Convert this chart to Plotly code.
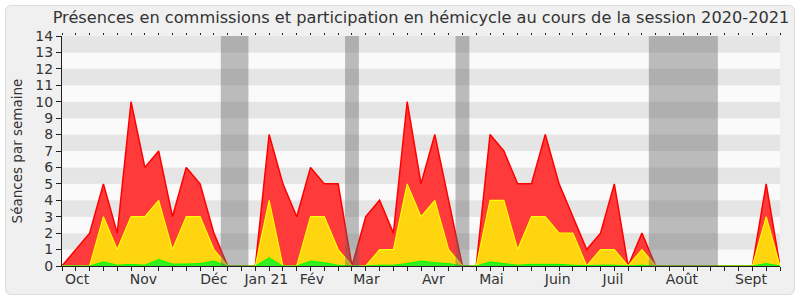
import plotly.graph_objects as go

# Weekly values, session 2020-2021 (week 0 = start of October)
red_values = [0, 1, 2, 5, 2, 10, 6, 7, 3, 6, 5, 2, 0, 0, 0, 8, 5, 3, 6, 5, 5, 0, 3, 4, 2, 10,
              5, 8, 4, 0, 0, 8, 7, 5, 5, 8, 5, 3, 1, 2, 5, 0, 2, 0, 0, 0, 0, 0, 0, 0, 0, 5, 0]
yellow_values = [0, 0, 0, 3, 1, 3, 3, 4, 1, 3, 3, 1, 0, 0, 0, 4, 0, 0, 3, 3, 1, 0, 0, 1, 1, 5,
                 3, 4, 1, 0, 0, 4, 4, 1, 3, 3, 2, 2, 0, 1, 1, 0, 1, 0, 0, 0, 0, 0, 0, 0, 0, 3, 0]
green_values = [0, 0, 0, 0.25, 0.05, 0.1, 0.05, 0.4, 0.12, 0.12, 0.15, 0.3, 0, 0, 0, 0.5, 0, 0,
                0.3, 0.2, 0.05, 0, 0, 0.05, 0.05, 0.15, 0.3, 0.2, 0.15, 0, 0, 0.25, 0.15, 0.05,
                0.1, 0.1, 0.1, 0.05, 0.02, 0.05, 0.05, 0, 0.05, 0, 0, 0, 0, 0, 0, 0, 0, 0.15, 0]

# Vacation weeks (first, last)
vacations = [(12, 13), (21, 21), (29, 29), (43, 47)]

month_labels = ["Oct", "Nov", "Déc", "Jan 21", "Fév", "Mar", "Avr", "Mai", "Juin", "Juil", "Août", "Sept"]
month_weeks = [1.1, 5.9, 11.0, 14.8, 18.1, 22.05, 26.9, 31.1, 35.9, 39.9, 44.9, 49.9]

y_ticks = list(range(0, 15))

weeks = list(range(len(red_values)))
n_last = weeks[-1]

FONT = "DejaVu Sans"
TXT = "#333333"

fig = go.Figure()
fig.add_trace(go.Scatter(x=weeks, y=red_values, mode="lines", fill="tozeroy",
                         line=dict(color="#ff0000", width=1.5), fillcolor="#ff3a3a",
                         hoverinfo="skip", showlegend=False))
fig.add_trace(go.Scatter(x=weeks, y=yellow_values, mode="lines", fill="tozeroy",
                         line=dict(color="#ffff00", width=1.2), fillcolor="#ffd50f",
                         hoverinfo="skip", showlegend=False))
fig.add_trace(go.Scatter(x=weeks, y=green_values, mode="lines", fill="tozeroy",
                         line=dict(color="#00ff00", width=1), fillcolor="#33ee22",
                         hoverinfo="skip", showlegend=False))
# dummy trace for the top tick axis
fig.add_trace(go.Scatter(x=[None], y=[None], xaxis="x2", yaxis="y", showlegend=False, hoverinfo="skip"))

ML, MR, MT, MB = 62, 20, 36, 34
W, H = 800, 300
pw, ph = W - ML - MR, H - MT - MB

def px2paper(px, py):
    return (px - ML) / pw, (H - MB - py) / ph

# rounded outer frame
x0, y0 = 5.5, 5.5
x1, y1 = 794.5, 294.5
r = 6
def P(px, py):
    a, b = px2paper(px, py)
    return f"{a:.5f},{b:.5f}"
path = (f"M {P(x0 + r, y0)} L {P(x1 - r, y0)} Q {P(x1, y0)} {P(x1, y0 + r)} "
        f"L {P(x1, y1 - r)} Q {P(x1, y1)} {P(x1 - r, y1)} L {P(x0 + r, y1)} "
        f"Q {P(x0, y1)} {P(x0, y1 - r)} L {P(x0, y0 + r)} Q {P(x0, y0)} {P(x0 + r, y0)} Z")
shapes = [dict(type="path", path=path, xref="paper", yref="paper", layer="below",
               fillcolor="#f0f0f0", line=dict(color="#dddddd", width=1))]

# alternating stripes
for k in y_ticks[:-1]:
    shapes.append(dict(type="rect", xref="x", yref="y", x0=0, x1=n_last, y0=k, y1=k + 1,
                       fillcolor="#e5e5e5" if k % 2 else "#fafafa", line=dict(width=0), layer="below"))

# vacation bands
for a, b in vacations:
    shapes.append(dict(type="rect", xref="x", yref="paper", x0=a - 0.5, x1=b + 0.5, y0=0, y1=1,
                       fillcolor="rgba(100,100,100,0.42)", line=dict(width=0), layer="above"))

fig.update_layout(
    width=W, height=H,
    margin=dict(l=ML, r=MR, t=MT, b=MB),
    paper_bgcolor="white",
    plot_bgcolor="#fafafa",
    font=dict(family=FONT, color=TXT, size=14),
    title=dict(text="Présences en commissions et participation en hémicycle au cours de la session 2020-2021",
               x=0.5, xanchor="center", xref="paper", y=1 - 17 / H, yanchor="middle",
               font=dict(family=FONT, size=16.2, color=TXT)),
    shapes=shapes,
    xaxis=dict(range=[0, n_last], tickmode="array", tickvals=month_weeks, ticktext=month_labels,
               ticks="", showgrid=False, zeroline=False, showline=True, linecolor="#222222",
               linewidth=1, tickfont=dict(size=14, color=TXT),
               minor=dict(tickmode="linear", tick0=0, dtick=1, ticks="outside", ticklen=4,
                          tickcolor="#222222", showgrid=False)),
    xaxis2=dict(range=[0, n_last], overlaying="x", side="top", anchor="y", tickmode="linear",
                tick0=0, dtick=1, ticks="outside", ticklen=2, tickcolor="#222222",
                showticklabels=False, showgrid=False, zeroline=False, showline=False),
    yaxis=dict(range=[0, 14], tickmode="array", tickvals=y_ticks, ticks="outside", ticklen=5,
               tickcolor="#222222", showgrid=False, zeroline=False, showline=True,
               linecolor="#222222", linewidth=1, tickfont=dict(size=14, color=TXT),
               title=dict(text="Séances par semaine", font=dict(size=13.5, color=TXT), standoff=9)),
)

fig.write_html("out.html")
